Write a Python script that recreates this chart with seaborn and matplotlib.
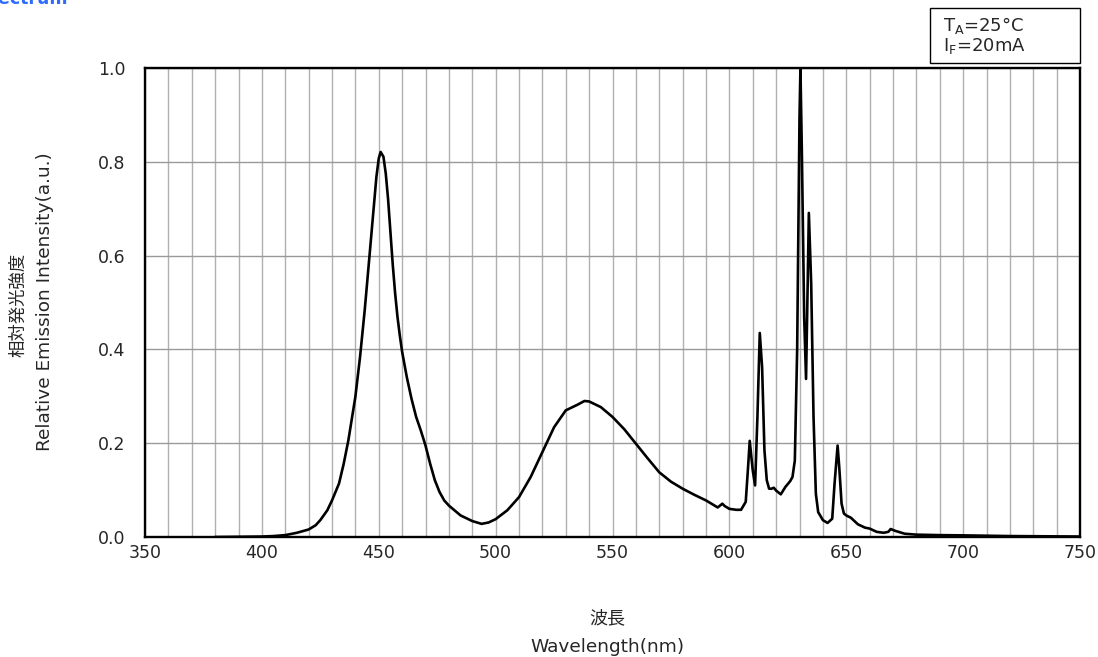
import matplotlib.pyplot as plt
import matplotlib.patches as patches
import numpy as np
import seaborn as sns

sns.set_style('white')
plt.rcParams['font.family'] = ['DejaVu Sans']
cjk = ['Noto Sans CJK JP', 'DejaVu Sans']

wavelength = [380, 390, 400, 405, 410, 415, 420, 423, 425, 428, 430, 433, 435, 437, 440,
              442, 444, 446, 448, 449, 450, 450.8, 452, 453, 454, 455, 456, 457, 458, 459,
              460, 462, 464, 466, 468, 470, 472, 474, 476, 478, 480, 485, 490, 494, 497,
              500, 505, 510, 515, 520, 525, 530, 535, 538, 540, 545, 550, 555, 560, 565,
              570, 575, 580, 585, 590, 595, 597, 598, 600, 603, 605, 607, 608, 608.7, 610,
              611, 612, 613, 614, 615, 616, 617, 618, 619, 620, 622, 624, 626, 627, 628,
              629, 630, 630.4, 631, 632, 632.8, 633.5, 634, 635, 636, 637, 638, 640, 642,
              644, 645, 646.3, 647, 648, 649, 650, 652, 655, 658, 660, 663, 666, 668, 669,
              671, 675, 680, 690, 700, 720, 750]
intensity = [0.0, 0.0005, 0.001, 0.002, 0.004, 0.009, 0.016, 0.025, 0.036, 0.057, 0.078,
             0.114, 0.156, 0.206, 0.299, 0.384, 0.484, 0.597, 0.711, 0.768, 0.807, 0.821,
             0.811, 0.775, 0.72, 0.65, 0.58, 0.52, 0.47, 0.43, 0.395, 0.341, 0.295, 0.256,
             0.227, 0.195, 0.156, 0.121, 0.096, 0.078, 0.067, 0.046, 0.034, 0.028, 0.031,
             0.038, 0.057, 0.085, 0.128, 0.181, 0.234, 0.27, 0.282, 0.29, 0.289, 0.277,
             0.256, 0.23, 0.199, 0.168, 0.138, 0.118, 0.103, 0.09, 0.078, 0.063, 0.071,
             0.066, 0.06, 0.058, 0.058, 0.075, 0.149, 0.205, 0.142, 0.11, 0.256, 0.435,
             0.362, 0.185, 0.121, 0.103, 0.103, 0.105, 0.099, 0.091, 0.107, 0.119, 0.128,
             0.163, 0.4, 0.895, 1.0, 0.824, 0.469, 0.337, 0.54, 0.691, 0.54, 0.256, 0.092,
             0.053, 0.036, 0.03, 0.039, 0.114, 0.195, 0.149, 0.071, 0.05, 0.046, 0.041,
             0.027, 0.02, 0.018, 0.011, 0.009, 0.011, 0.017, 0.013, 0.007, 0.005, 0.004,
             0.0035, 0.002, 0.001]

W, H = 1098, 657
fig = plt.figure(figsize=(W / 100, H / 100), dpi=100)
ax = fig.add_axes([145 / W, 1 - 537 / H, 935 / W, 469 / H])

sns.lineplot(x=wavelength, y=intensity, color='black', linewidth=1.9, ax=ax)

ax.set_xlim(350, 750)
ax.set_ylim(0, 1.0)
ax.set_xticks(np.arange(350, 751, 50))
ax.set_xticks(np.arange(350, 751, 10), minor=True)
ax.set_yticks(np.arange(0, 1.01, 0.2))
ax.set_yticklabels([f'{v:.1f}' for v in np.arange(0, 1.01, 0.2)])
ax.grid(True, which='both', axis='x', color='#b0b0b0', linewidth=1)
ax.grid(True, which='major', axis='y', color='#999999', linewidth=1)
ax.set_axisbelow(True)
ax.tick_params(axis='x', which='major', direction='in', length=5, width=1, pad=5, labelsize=12.5)
ax.tick_params(axis='x', which='minor', length=0)
ax.tick_params(axis='y', direction='in', length=5, width=1, pad=14, labelsize=12.5)
for s in ax.spines.values():
    s.set_linewidth(1.7)
    s.set_color('black')

# axis titles (Japanese + English lines)
fig.text(607 / W, 1 - 618 / H, '波長', family=cjk, fontsize=13, ha='center', va='center')
fig.text(607 / W, 1 - 647 / H, 'Wavelength(nm)', fontsize=13.3, ha='center', va='center')
fig.text(18 / W, 1 - 305 / H, '相対発光強度', family=cjk, fontsize=12.5, rotation=90,
         ha='center', va='center')
fig.text(45 / W, 1 - 302 / H, 'Relative Emission Intensity(a.u.)', fontsize=13.3, rotation=90,
         ha='center', va='center')

# condition box
fig.patches.append(patches.Rectangle((930 / W, 1 - 63 / H), 150 / W, 55 / H,
                                     transform=fig.transFigure, fill=False,
                                     edgecolor='black', linewidth=1))
fig.text(943 / W, 1 - 26 / H, r'T$_\mathregular{A}$=25°C', fontsize=13, va='center')
fig.text(943 / W, 1 - 46 / H, r'I$_\mathregular{F}$=20mA', fontsize=13, va='center')

fig.text(-0.024, 1 - 4 / H, 'Spectrum', color='#2e6bff', fontsize=12.5,
         fontweight='bold', va='baseline')

fig.savefig('out.png', dpi=100)
